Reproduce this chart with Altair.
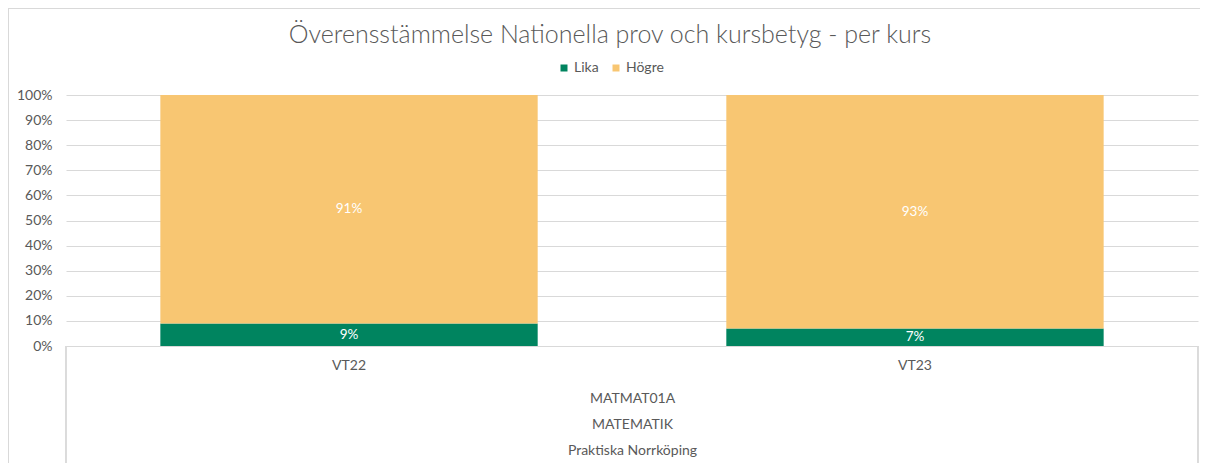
import altair as alt
import pandas as pd

# --- data ---
periods = ["VT22", "VT23"]
series_names = ["Lika", "Högre"]
lika = [9, 7]
hogre = [91, 93]
course_levels = ["MATMAT01A", "MATEMATIK", "Praktiska Norrköping"]
title_text = "Överensstämmelse Nationella prov och kursbetyg - per kurs"
colors = ["#00845F", "#F8C672"]

rows = []
for i, p in enumerate(periods):
    start = 0.0
    for k, (name, vals) in enumerate(zip(series_names, [lika, hogre])):
        v = vals[i] / 100.0
        rows.append({"period": p, "series": name, "order": k, "value": v,
                     "start": start, "end": start + v, "mid": start + v / 2,
                     "label": f"{vals[i]}%"})
        start += v
df = pd.DataFrame(rows)

FONT = "Lato"
GREY = "#595959"
W, H = 1132, 251

base = alt.Chart(df)

x_axis = alt.Axis(title=course_levels, labelAngle=0, labelFontSize=14,
                  labelColor=GREY, labelPadding=12, labelFont=FONT,
                  domain=True, domainColor="#D9D9D9", ticks=False,
                  grid=False, titleFont=FONT, titleFontSize=14,
                  titleFontWeight="normal", titleColor=GREY,
                  titlePadding=19, titleLineHeight=26)
x_scale = alt.Scale(paddingInner=0.3333, paddingOuter=0.1667)
y_axis = alt.Axis(title=None, format=".0%",
                  values=[round(i / 10, 1) for i in range(11)], labelOverlap=False,
                  labelFontSize=14, labelColor=GREY, labelFont=FONT,
                  labelPadding=14, domain=False, ticks=False,
                  gridColor="#D9D9D9", gridWidth=1)
y_scale = alt.Scale(domain=[0, 1])

bars = base.mark_bar().encode(
    x=alt.X("period:N", sort=periods, scale=x_scale, axis=x_axis),
    y=alt.Y("start:Q", scale=y_scale, axis=y_axis),
    y2="end:Q",
    color=alt.Color("series:N",
                    scale=alt.Scale(domain=series_names, range=colors),
                    legend=alt.Legend(title=None, orient="none", direction="horizontal",
                                      legendX=491, legendY=-34, symbolType="square",
                                      symbolSize=49, symbolStrokeWidth=0,
                                      labelFontSize=14, labelColor=GREY,
                                      labelFont=FONT, columnPadding=10,
                                      symbolOffset=0, labelOffset=3)),
    order=alt.Order("order:Q"),
)

labels = base.mark_text(color="white", fontSize=13.5, font=FONT).encode(
    x=alt.X("period:N", sort=periods, scale=x_scale, axis=x_axis),
    y=alt.Y("mid:Q", scale=y_scale, axis=y_axis),
    text="label:N",
)

edge_l = base.mark_rule(color="#D9D9D9", clip=False).encode(
    x=alt.value(0), y=alt.value(H), y2=alt.value(H + 117))
edge_r = base.mark_rule(color="#D9D9D9", clip=False).encode(
    x=alt.value(W), y=alt.value(H), y2=alt.value(H + 117))
frame = base.mark_rect(fill=None, stroke="#D9D9D9", strokeWidth=1, clip=False).encode(
    x=alt.value(-57.5), x2=alt.value(W + 40), y=alt.value(-86.5), y2=alt.value(H + 140))

chart = alt.layer(frame, bars, labels, edge_l, edge_r).properties(
    width=W, height=H,
    autosize=alt.AutoSizeParams(type="none"),
    padding={"left": 58, "top": 87, "right": 2, "bottom": 117},
    title=alt.TitleParams(title_text, fontSize=25, font=FONT, color=GREY,
                          fontWeight=300, anchor="middle", frame="group",
                          dx=-22, offset=-40),
).configure(background="white", view=alt.ViewConfig(stroke=None))

chart.save("out.html", embed_options={"renderer": "svg", "actions": False})
